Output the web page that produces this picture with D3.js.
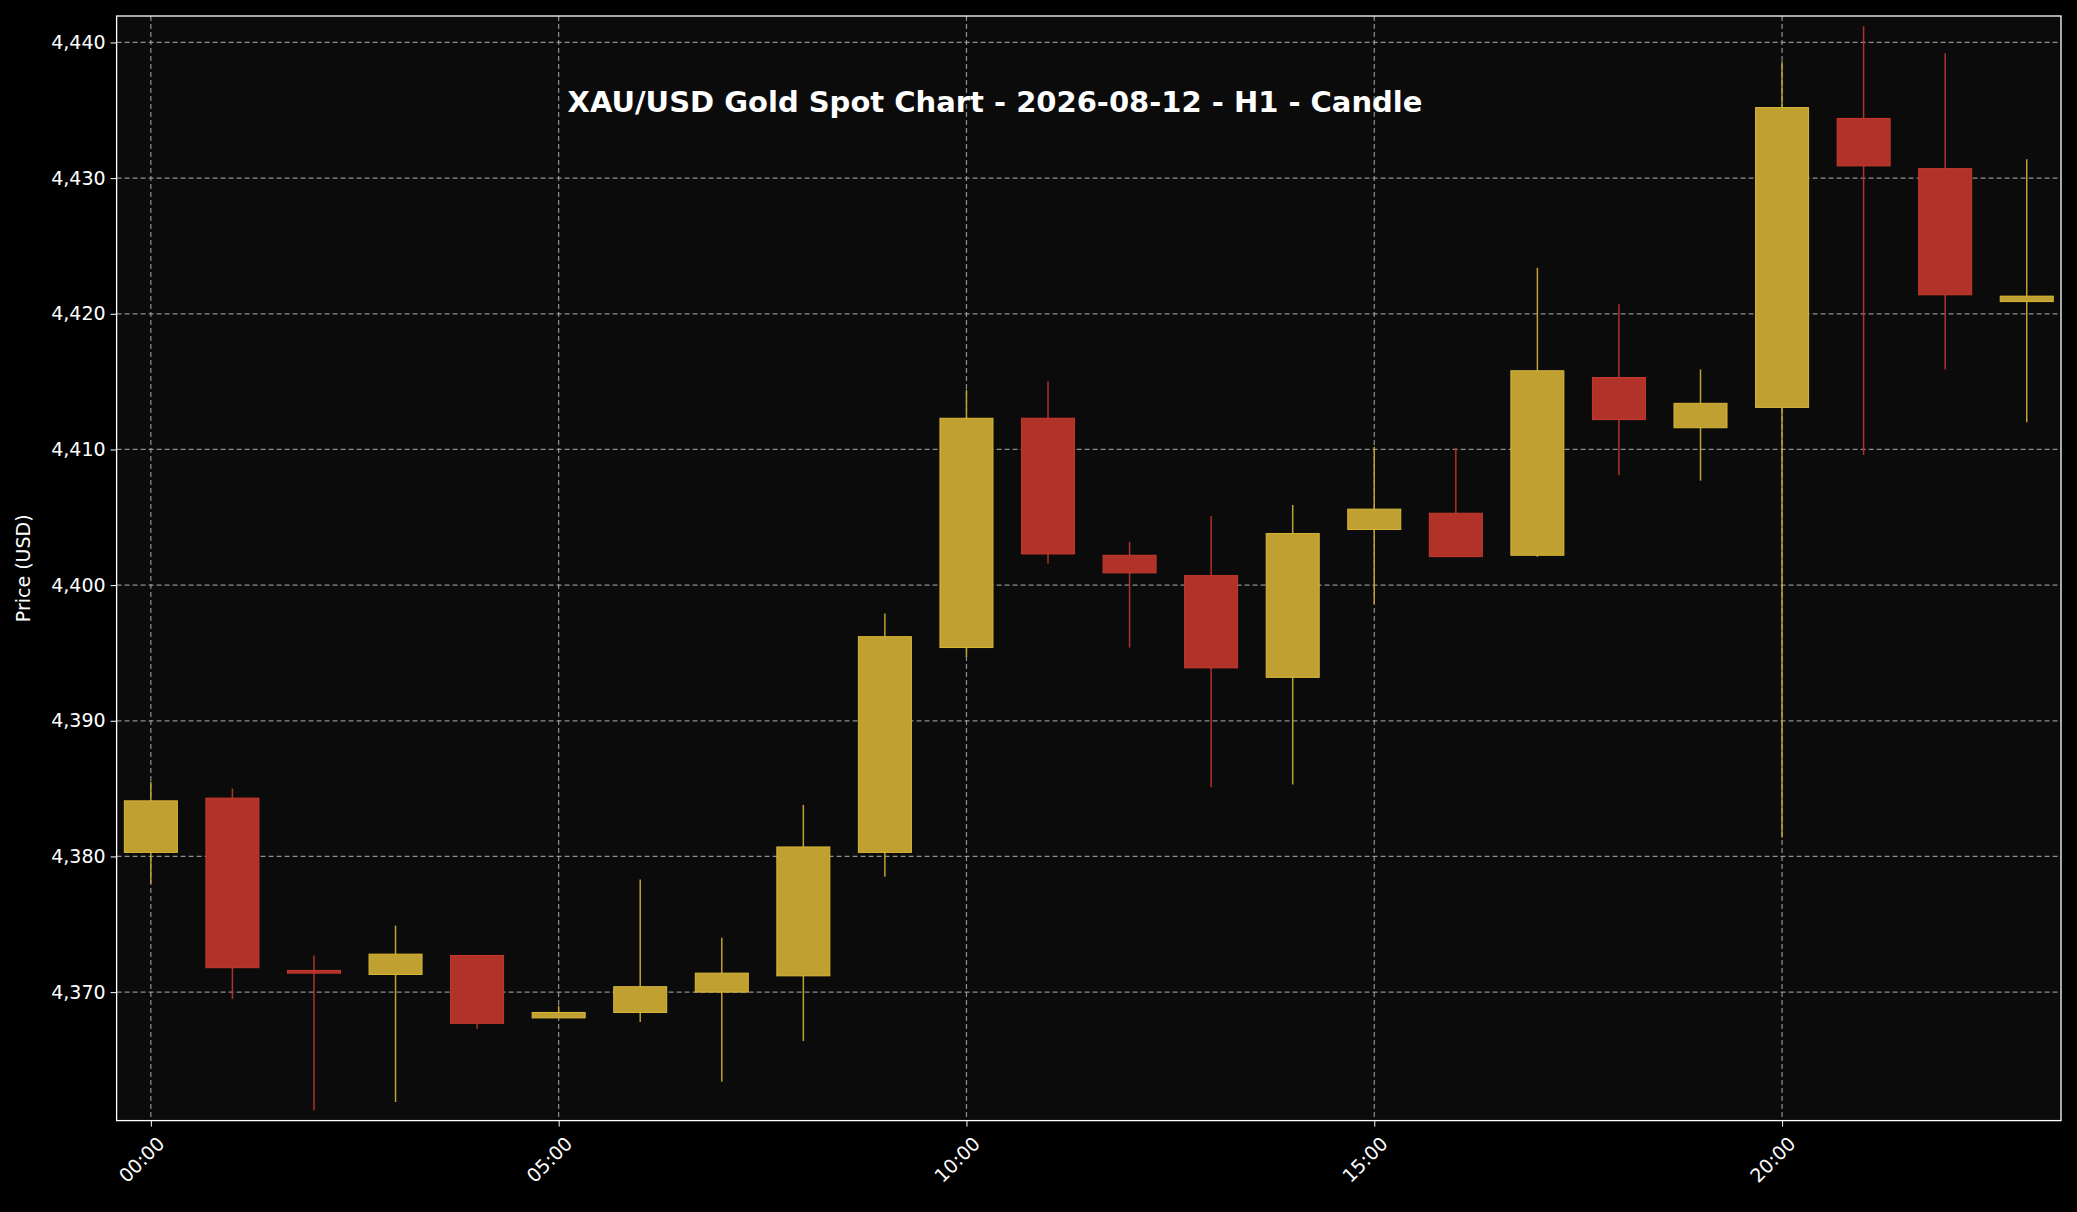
<!DOCTYPE html>
<html><head><meta charset="utf-8">
<script src="https://cdn.jsdelivr.net/npm/d3@7"></script>
<style>body{margin:0;background:#000}</style></head>
<body><svg id="c" width="2077" height="1212"></svg>
<script>
const hours=[0,1,2,3,4,5,6,7,8,9,10,11,12,13,14,15,16,17,18,19,20,21,22,23];
const open =[4380.3,4384.3,4371.6,4371.3,4372.7,4368.1,4368.5,4370.0,4371.2,4380.3,4395.4,4412.3,4402.2,4400.7,4393.2,4404.1,4405.3,4402.2,4415.3,4411.6,4413.1,4434.4,4430.7,4420.9];
const high =[4385.5,4385.0,4372.7,4374.9,4372.7,4369.0,4378.3,4374.0,4383.8,4397.9,4414.4,4415.0,4403.2,4405.1,4405.9,4410.2,4410.1,4423.4,4420.7,4415.9,4438.6,4441.2,4439.2,4431.4];
const low  =[4378.0,4369.5,4361.3,4361.9,4367.3,4368.1,4367.8,4363.4,4366.4,4378.5,4394.7,4401.6,4395.4,4385.1,4385.3,4398.6,4402.1,4402.1,4408.1,4407.7,4381.4,4409.6,4415.9,4412.0];
const close=[4384.1,4371.8,4371.4,4372.8,4367.7,4368.5,4370.4,4371.4,4380.7,4396.2,4412.3,4402.3,4400.9,4393.9,4403.8,4405.6,4402.1,4415.8,4412.2,4413.4,4435.2,4430.9,4421.4,4421.3];
const xTicks=[0,5,10,15,20], xTickLabels=["00:00","05:00","10:00","15:00","20:00"];
const yTicks=[4370,4380,4390,4400,4410,4420,4430,4440];
const title="XAU/USD Gold Spot Chart - 2026-08-12 - H1 - Candle";

const svg=d3.select("#c");
const L=116.6,R=2061,T=16,B=1120.6;
const x=d3.scaleLinear().domain([-0.42,23.42]).range([L,R]);
const y=d3.scaleLinear().domain([4360.53,4441.95]).range([B,T]);
svg.append("rect").attr("width",2077).attr("height",1212).attr("fill","#000");
svg.append("rect").attr("x",L).attr("y",T).attr("width",R-L).attr("height",B-T).attr("fill","#0b0b0b");
const g=svg.append("g");
g.selectAll(".gx").data(xTicks).join("line").attr("x1",d=>x(d)).attr("x2",d=>x(d)).attr("y1",T).attr("y2",B)
 .attr("stroke","#b0b0b0").attr("stroke-dasharray","5,3").attr("stroke-width",1.2).attr("opacity",0.8);
g.selectAll(".gy").data(yTicks).join("line").attr("y1",d=>y(d)).attr("y2",d=>y(d)).attr("x1",L).attr("x2",R)
 .attr("stroke","#b0b0b0").attr("stroke-dasharray","5,3").attr("stroke-width",1.2).attr("opacity",0.8);
const gold="#c0a030", red="#b03228";
const col=i=>close[i]>=open[i]?gold:red;
const bw=x(0.65)-x(0);
hours.forEach((h,i)=>{
  g.append("line").attr("x1",x(h)).attr("x2",x(h)).attr("y1",y(high[i])).attr("y2",y(low[i])).attr("stroke",col(i)).attr("stroke-width",1.5);
  const t=y(Math.max(open[i],close[i])), b=y(Math.min(open[i],close[i]));
  g.append("rect").attr("x",x(h)-bw/2).attr("width",bw).attr("y",t).attr("height",Math.max(b-t,2))
   .attr("fill",col(i)).attr("stroke",col(i)===gold?"#d8b838":"#c83a30").attr("stroke-width",1);
});
svg.append("rect").attr("x",L).attr("y",T).attr("width",R-L).attr("height",B-T).attr("fill","none").attr("stroke","#fff").attr("stroke-width",1.3);
const xa=svg.append("g").attr("transform",`translate(0,${B})`).call(d3.axisBottom(x).tickValues(xTicks).tickFormat((d,i)=>xTickLabels[i]).tickSize(6));
xa.select(".domain").remove();
xa.selectAll("line").attr("stroke","#fff");
xa.selectAll("text").attr("fill","#fff").style("font-family","DejaVu Sans").style("font-size","19px")
  .attr("text-anchor","end").attr("dx","0").attr("dy","0").attr("transform","translate(8,18) rotate(-45)");
const ya=svg.append("g").attr("transform",`translate(${L},0)`).call(d3.axisLeft(y).tickValues(yTicks).tickSize(6).tickPadding(5));
ya.select(".domain").remove();
ya.selectAll("line").attr("stroke","#fff");
ya.selectAll("text").attr("fill","#fff").style("font-family","DejaVu Sans").style("font-size","19px");
svg.append("text").attr("transform",`translate(30,${(T+B)/2}) rotate(-90)`).attr("text-anchor","middle")
 .attr("fill","#fff").style("font-family","DejaVu Sans").style("font-size","19px").text("Price (USD)");
svg.append("text").attr("x",995).attr("y",112).attr("text-anchor","middle").attr("fill","#fff")
 .style("font-family","DejaVu Sans").style("font-weight","bold").style("font-size","29px").text(title);
</script></body></html>
